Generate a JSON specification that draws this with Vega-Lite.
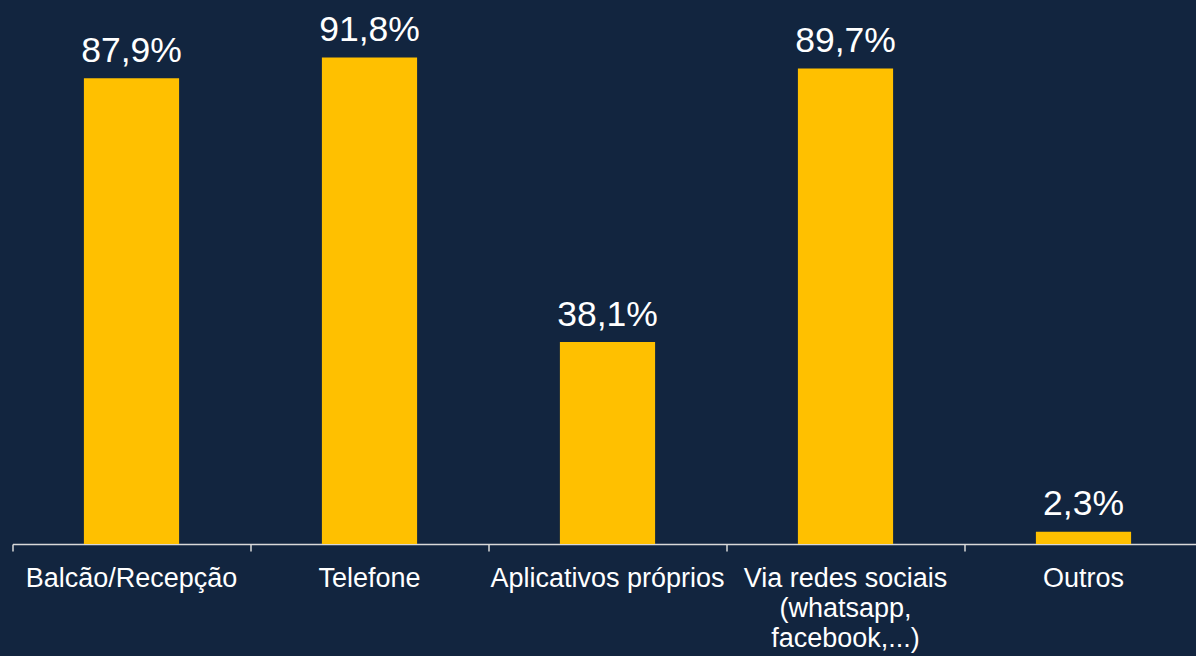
{
  "$schema": "https://vega.github.io/schema/vega-lite/v6.json",
  "autosize": {"type": "none"},
  "width": 1190,
  "height": 530,
  "padding": {"left": 12.5, "top": 14, "right": 0, "bottom": 112},
  "background": "#12253f",
  "data": {
    "values": [
      {"canal": "Balcão/Recepção", "pct": 0.879},
      {"canal": "Telefone", "pct": 0.918},
      {"canal": "Aplicativos próprios", "pct": 0.381},
      {"canal": "Via redes sociais|(whatsapp,|facebook,...)", "pct": 0.897},
      {"canal": "Outros", "pct": 0.023}
    ]
  },
  "layer": [
    {
      "mark": {"type": "bar", "color": "#ffc000", "width": {"band": 0.4}},
      "encoding": {
        "x": {
          "field": "canal",
          "type": "nominal",
          "sort": null,
          "scale": {"paddingInner": 0, "paddingOuter": 0},
          "axis": {
            "orient": "bottom",
            "title": null,
            "labels": false,
            "tickBand": "extent",
            "tickSize": 7,
            "tickColor": "#d9d9d9",
            "tickWidth": 1.5,
            "domainColor": "#d9d9d9",
            "domainWidth": 1.5,
            "grid": false
          }
        },
        "y": {
          "field": "pct",
          "type": "quantitative",
          "scale": {"domain": [0, 1], "nice": false, "zero": true},
          "axis": null
        }
      }
    },
    {
      "mark": {
        "type": "text",
        "color": "#ffffff",
        "font": "Liberation Sans",
        "fontSize": 35.5,
        "baseline": "alphabetic",
        "align": "center",
        "dy": -16.5
      },
      "encoding": {
        "x": {
          "field": "canal",
          "type": "nominal",
          "sort": null,
          "scale": {"paddingInner": 0, "paddingOuter": 0},
          "axis": {
            "orient": "bottom",
            "title": null,
            "labelAngle": 0,
            "labelExpr": "split(datum.value, '|')",
            "labelLimit": 0,
            "labelOverlap": false,
            "labelFlush": false,
            "labelBound": false,
            "labelFont": "Liberation Sans",
            "labelFontSize": 27,
            "labelLineHeight": 30,
            "labelColor": "#ffffff",
            "labelPadding": 21,
            "ticks": false,
            "domain": false,
            "grid": false
          }
        },
        "y": {
          "field": "pct",
          "type": "quantitative",
          "scale": {"domain": [0, 1], "nice": false, "zero": true},
          "axis": null
        },
        "text": {"field": "pct", "type": "quantitative", "format": ".1%"}
      }
    }
  ],
  "resolve": {"axis": {"x": "independent"}},
  "config": {
    "view": {"stroke": null},
    "locale": {
      "number": {
        "decimal": ",",
        "thousands": ".",
        "grouping": [3],
        "currency": ["R$", ""]
      }
    }
  }
}
